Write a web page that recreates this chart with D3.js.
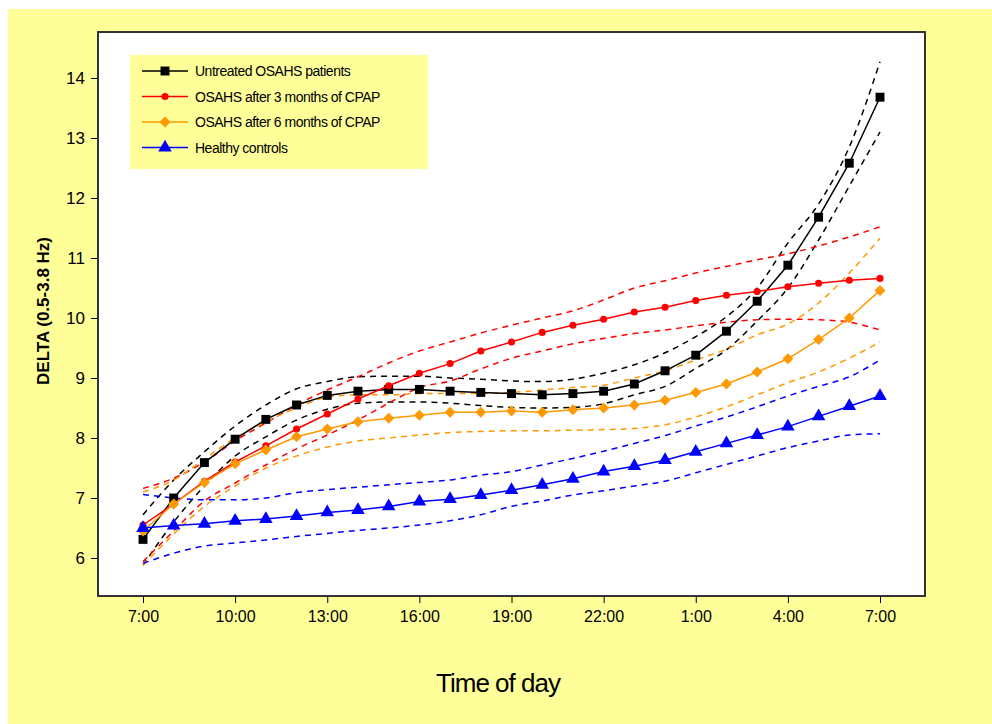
<!DOCTYPE html>
<html>
<head>
<meta charset="utf-8">
<script src="https://cdn.jsdelivr.net/npm/d3@7"></script>
<style>
  body { margin: 0; background: #fff; }
  text { font-family: "Liberation Sans", Arial, sans-serif; }
</style>
</head>
<body>
<script>
var width = 992,
    height = 724;

// hours after 7:00, one point per hour
var hours = d3.range(0, 25);
var xTickHours = [0, 3, 6, 9, 12, 15, 18, 21, 24];
var xTickLabels = ["7:00", "10:00", "13:00", "16:00", "19:00", "22:00", "1:00", "4:00", "7:00"];
var yTicks = [6, 7, 8, 9, 10, 11, 12, 13, 14];

var seriesNames = ["Untreated OSAHS patients", "OSAHS after 3 months of CPAP", "OSAHS after 6 months of CPAP", "Healthy controls"];

var untreated = [6.31, 7.0, 7.59, 7.98, 8.31, 8.55, 8.71, 8.78, 8.81, 8.81, 8.78, 8.76, 8.74, 8.72, 8.74, 8.78, 8.9, 9.12, 9.38, 9.78, 10.28, 10.88, 11.68, 12.58, 13.68];
var untreatedHi = [6.72, 7.3, 7.77, 8.2, 8.55, 8.82, 8.94, 9.02, 9.03, 9.03, 9.0, 8.98, 8.95, 8.94, 8.98, 9.08, 9.22, 9.42, 9.69, 10.02, 10.5, 11.25, 11.9, 12.85, 14.27];
var untreatedLo = [5.88, 6.6, 7.2, 7.7, 8.02, 8.3, 8.48, 8.58, 8.6, 8.6, 8.58, 8.54, 8.51, 8.5, 8.51, 8.57, 8.72, 8.86, 9.16, 9.47, 9.95, 10.5, 11.3, 12.2, 13.1];

var cpap3 = [6.55, 6.9, 7.28, 7.6, 7.87, 8.15, 8.4, 8.65, 8.87, 9.08, 9.24, 9.45, 9.6, 9.76, 9.88, 9.98, 10.1, 10.18, 10.29, 10.38, 10.44, 10.52, 10.58, 10.63, 10.66];
var cpap3Hi = [7.16, 7.33, 7.6, 7.95, 8.25, 8.55, 8.8, 9.02, 9.25, 9.45, 9.6, 9.75, 9.88, 10.0, 10.12, 10.3, 10.5, 10.62, 10.75, 10.86, 10.97, 11.07, 11.2, 11.35, 11.52];
var cpap3Lo = [5.94, 6.45, 6.95, 7.25, 7.55, 7.82, 8.05, 8.3, 8.58, 8.84, 8.95, 9.15, 9.33, 9.45, 9.57, 9.66, 9.74, 9.8, 9.87, 9.93, 9.97, 9.98, 9.97, 9.93, 9.8];

var cpap6 = [6.45, 6.9, 7.26, 7.57, 7.8, 8.02, 8.15, 8.27, 8.33, 8.38, 8.43, 8.43, 8.45, 8.43, 8.47, 8.5, 8.55, 8.63, 8.76, 8.9, 9.1, 9.32, 9.64, 10.0, 10.46];
var cpap6Hi = [7.1, 7.3, 7.65, 8.0, 8.27, 8.5, 8.68, 8.72, 8.72, 8.74, 8.74, 8.74, 8.76, 8.8, 8.84, 8.88, 9.0, 9.12, 9.3, 9.48, 9.72, 9.9, 10.25, 10.75, 11.33];
var cpap6Lo = [5.88, 6.4, 6.86, 7.2, 7.5, 7.7, 7.85, 7.95, 8.0, 8.05, 8.09, 8.11, 8.12, 8.12, 8.13, 8.14, 8.16, 8.22, 8.35, 8.52, 8.72, 8.92, 9.1, 9.33, 9.6];

var healthy = [6.5, 6.54, 6.57, 6.62, 6.65, 6.7, 6.76, 6.8, 6.86, 6.94, 6.98, 7.05, 7.13, 7.22, 7.32, 7.44, 7.53, 7.63, 7.77, 7.91, 8.05, 8.19, 8.36, 8.53, 8.7];
var healthyHi = [7.06, 7.0, 6.97, 6.97, 7.0, 7.09, 7.14, 7.18, 7.22, 7.26, 7.3, 7.38, 7.44, 7.55, 7.66, 7.78, 7.91, 8.04, 8.2, 8.35, 8.52, 8.7, 8.86, 9.02, 9.3];
var healthyLo = [5.91, 6.08, 6.2, 6.25, 6.3, 6.36, 6.41, 6.46, 6.5, 6.55, 6.62, 6.72, 6.86, 6.95, 7.05, 7.12, 7.2, 7.28, 7.42, 7.56, 7.7, 7.84, 7.95, 8.05, 8.07];

var series = [
  { name: seriesNames[0], mean: untreated, hi: untreatedHi, lo: untreatedLo, color: "#000000", marker: "square" },
  { name: seriesNames[1], mean: cpap3, hi: cpap3Hi, lo: cpap3Lo, color: "#ff0000", marker: "circle" },
  { name: seriesNames[2], mean: cpap6, hi: cpap6Hi, lo: cpap6Lo, color: "#ff9900", marker: "diamond" },
  { name: seriesNames[3], mean: healthy, hi: healthyHi, lo: healthyLo, color: "#0000ff", marker: "triangle" }
];

var svg = d3.select("body").append("svg")
            .attr("width", width)
            .attr("height", height);

// yellow chart background
svg.append("rect")
   .attr("x", 8).attr("y", 9)
   .attr("width", width - 8).attr("height", height - 9)
   .attr("fill", "#ffff99");

var plot = { left: 98, top: 32, right: 925, bottom: 596 };

svg.append("rect")
   .attr("x", plot.left).attr("y", plot.top)
   .attr("width", plot.right - plot.left).attr("height", plot.bottom - plot.top)
   .attr("fill", "#fff")
   .attr("stroke", "#333")
   .attr("stroke-width", 2);

var x = d3.scaleLinear().domain([0, 24]).range([143, 880]);
var y = d3.scaleLinear().domain([6, 14]).range([558, 78]);

// axes
var xAxis = d3.axisBottom(x)
              .tickValues(xTickHours)
              .tickFormat(function(d, i) { return xTickLabels[i]; })
              .tickSize(6)
              .tickPadding(8);

var gx = svg.append("g")
            .attr("transform", "translate(0," + (plot.bottom + 1) + ")")
            .call(xAxis);
gx.select(".domain").remove();
gx.selectAll("text").attr("font-size", 16).attr("fill", "#000").attr("font-family", "Liberation Sans, Arial");

var yAxis = d3.axisLeft(y).tickValues(yTicks).tickSize(6).tickPadding(6);
var gy = svg.append("g")
            .attr("transform", "translate(" + (plot.left - 1) + ",0)")
            .call(yAxis);
gy.select(".domain").remove();
gy.selectAll("text").attr("font-size", 17).attr("fill", "#000").attr("font-family", "Liberation Sans, Arial");

svg.append("text")
   .attr("x", 498).attr("y", 692)
   .attr("text-anchor", "middle")
   .attr("font-size", 26)
   .attr("letter-spacing", -1)
   .text("Time of day");

svg.append("text")
   .attr("transform", "translate(49,311)rotate(-90)")
   .attr("text-anchor", "middle")
   .attr("font-size", 17)
   .attr("font-weight", "bold")
   .text("DELTA (0.5-3.8 Hz)");

// confidence bands (dashed)
var ciLine = d3.line()
               .x(function(d, i) { return x(hours[i]); })
               .y(function(d) { return y(d); })
               .curve(d3.curveMonotoneX);

var meanLine = d3.line()
                 .x(function(d, i) { return x(hours[i]); })
                 .y(function(d) { return y(d); });

series.forEach(function(s) {
  [s.hi, s.lo].forEach(function(arr) {
    svg.append("path")
       .attr("d", ciLine(arr))
       .attr("fill", "none")
       .attr("stroke", s.color)
       .attr("stroke-width", 1.5)
       .attr("stroke-dasharray", "6,5");
  });
});

// diamond = square turned 45 degrees
var symbolType = {
  square: d3.symbolSquare,
  circle: d3.symbolCircle,
  diamond: d3.symbolSquare,
  triangle: d3.symbolTriangle
};
var symbolSize = { square: 80, circle: 40, diamond: 60, triangle: 80 };

function drawMarker(g, s, cx, cy) {
  g.append("path")
   .attr("d", d3.symbol().type(symbolType[s.marker]).size(symbolSize[s.marker])())
   .attr("transform", "translate(" + cx + "," + cy + ")" + (s.marker == "diamond" ? "rotate(45)" : ""))
   .attr("fill", s.color);
}

series.forEach(function(s) {
  svg.append("path")
     .attr("d", meanLine(s.mean))
     .attr("fill", "none")
     .attr("stroke", s.color)
     .attr("stroke-width", 1.5);
  var g = svg.append("g");
  s.mean.forEach(function(v, i) {
    drawMarker(g, s, x(hours[i]), y(v));
  });
});

// legend
var legend = svg.append("g");
legend.append("rect")
      .attr("x", 130).attr("y", 55)
      .attr("width", 298).attr("height", 114)
      .attr("fill", "#ffff99");

series.forEach(function(s, i) {
  var ly = 71 + i * 25.5;
  legend.append("line")
        .attr("x1", 142).attr("x2", 188)
        .attr("y1", ly).attr("y2", ly)
        .attr("stroke", s.color)
        .attr("stroke-width", 1.5);
  drawMarker(legend, s, 165, ly);
  legend.append("text")
        .attr("x", 195).attr("y", ly + 5)
        .attr("font-size", 14)
        .attr("letter-spacing", -0.5)
        .text(s.name);
});
</script>
</body>
</html>
